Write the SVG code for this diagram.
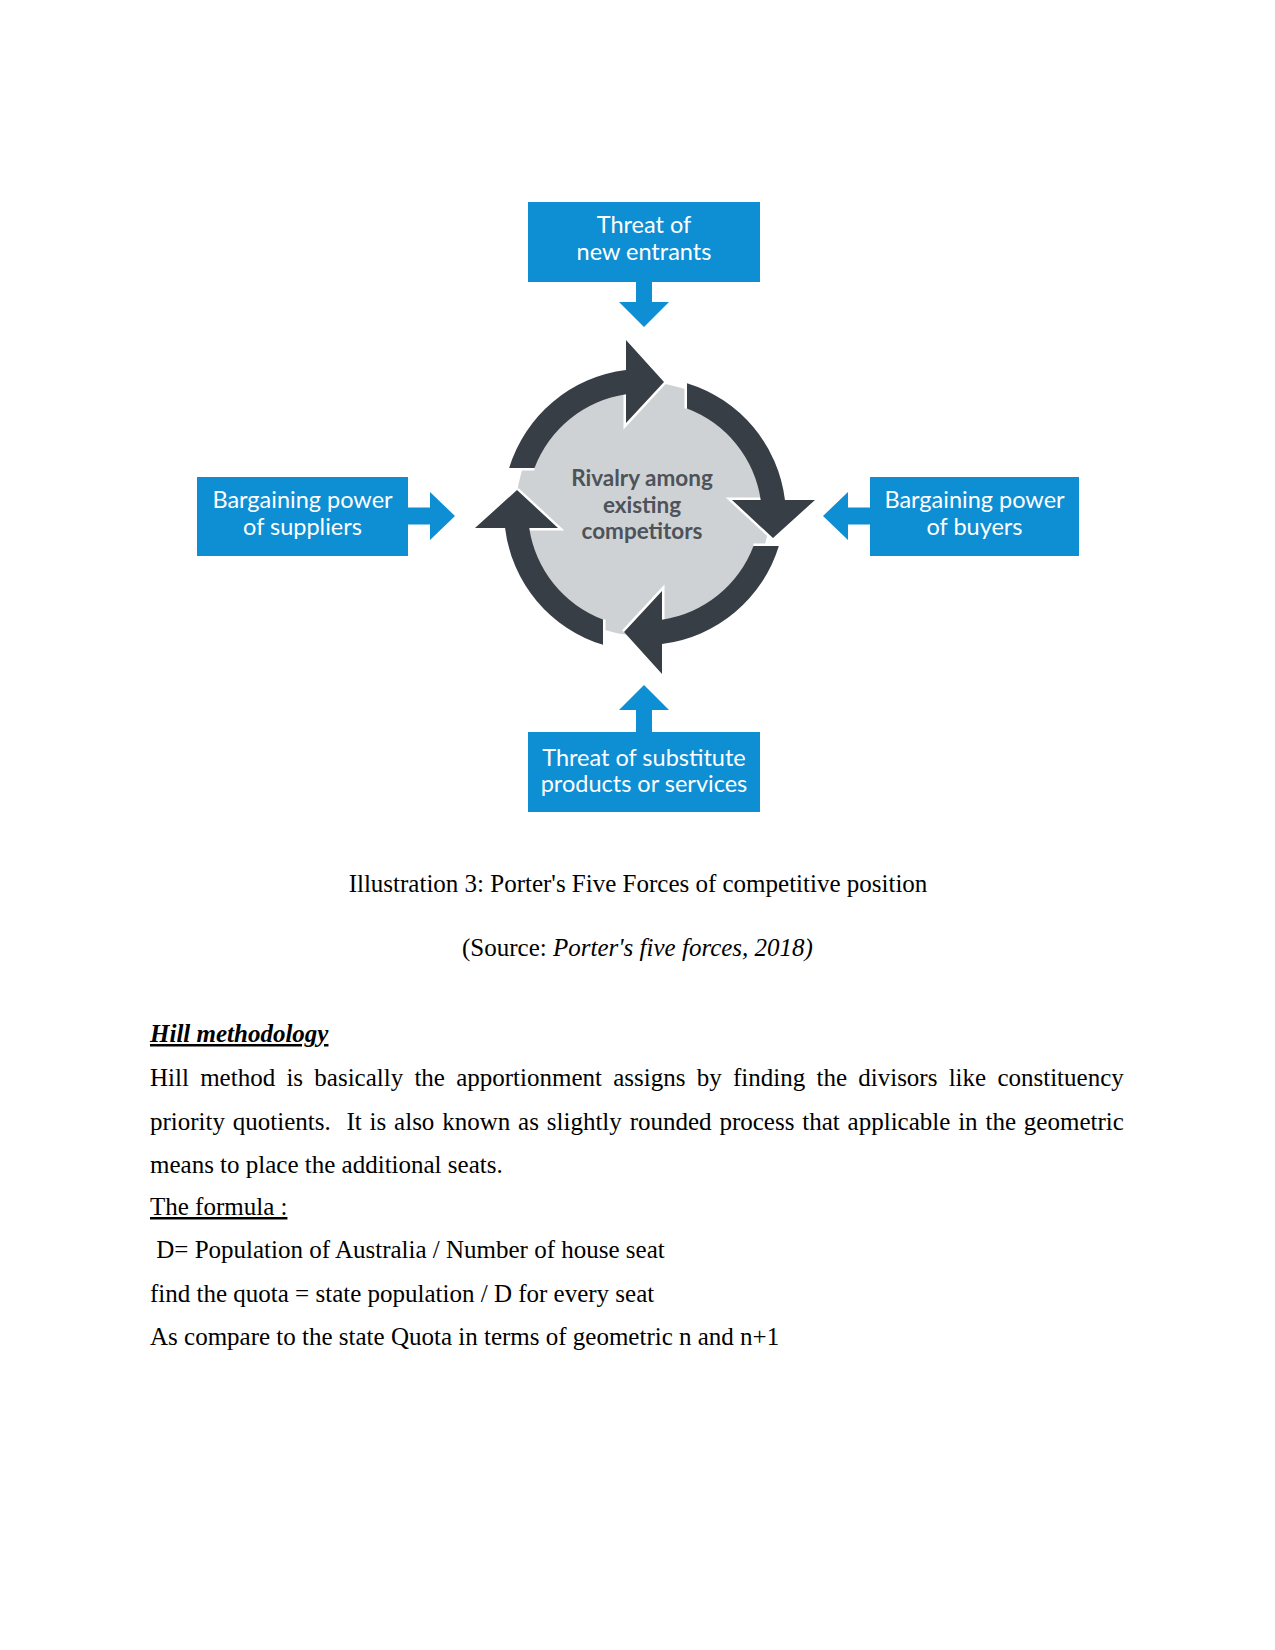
<svg xmlns="http://www.w3.org/2000/svg" xmlns:xlink="http://www.w3.org/1999/xlink" width="1275" height="1650" viewBox="0 0 1275 1650">
<style>
.box{fill:#0e8ed3}
.blue{fill:#0e8ed3}
.btxt{font-family:Lato,"Noto Sans",sans-serif;font-size:23.5px;fill:#ffffff;text-anchor:middle}
.ctxt{font-family:Lato,"Noto Sans",sans-serif;font-size:22.5px;font-weight:700;fill:#4d5359;text-anchor:middle}
.ring{fill:#373e45}
.halo{fill:none;stroke:#ffffff;stroke-width:5;stroke-linejoin:miter}
.doc{font-family:"Liberation Serif","Times New Roman",serif;font-size:25px;fill:#000000}
</style>
<defs>
<path id="ringArrow" class="ring" d="M -133.86 -41 A 140 140 0 0 1 -17 -138.96 L -17 -169 L 21 -127 L -17 -86 L -17 -114.75 A 116 116 0 0 0 -108.51 -41 Z"/>
<path id="ringHalo" class="halo" d="M -108.51 -41 L -133.86 -41 M -17 -114.75 L -17 -86 L 21 -127"/>
</defs>
<rect width="1275" height="1650" fill="#ffffff"/>

<g id="rivalry">
<circle cx="643" cy="509" r="127" fill="#cfd2d5"/>
<g id="ring-arrows">
<use xlink:href="#ringHalo" transform="translate(643,509) rotate(0)"/>
<use xlink:href="#ringHalo" transform="translate(646,517) rotate(90)"/>
<use xlink:href="#ringHalo" transform="translate(645,505) rotate(180)"/>
<use xlink:href="#ringHalo" transform="translate(644,511) rotate(270)"/>
<use xlink:href="#ringArrow" transform="translate(643,509) rotate(0)"/>
<use xlink:href="#ringArrow" transform="translate(646,517) rotate(90)"/>
<use xlink:href="#ringArrow" transform="translate(645,505) rotate(180)"/>
<use xlink:href="#ringArrow" transform="translate(644,511) rotate(270)"/>
</g>
<text class="ctxt" x="642" y="486">Rivalry among</text>
<text class="ctxt" x="642" y="513">existing</text>
<text class="ctxt" x="642" y="539">competitors</text>
</g>

<g id="connectors">
<path class="blue" d="M 636 282 L 652 282 L 652 302 L 669 302 L 644 327 L 619 302 L 636 302 Z"/>
<path class="blue" d="M 408 507.5 L 430 507.5 L 430 492 L 455 516 L 430 540 L 430 524.5 L 408 524.5 Z"/>
<path class="blue" d="M 870 507.5 L 848 507.5 L 848 492 L 823 516 L 848 540 L 848 524.5 L 870 524.5 Z"/>
<path class="blue" d="M 636 732 L 652 732 L 652 710 L 669 710 L 644 685 L 619 710 L 636 710 Z"/>
</g>

<g id="new-entrants">
<rect class="box" x="528" y="202" width="232" height="80"/>
<text class="btxt" x="644" y="233">Threat of</text>
<text class="btxt" x="644" y="260">new entrants</text>
</g>

<g id="suppliers">
<rect class="box" x="197" y="477" width="211" height="79"/>
<text class="btxt" x="302.5" y="508">Bargaining power</text>
<text class="btxt" x="302.5" y="535">of suppliers</text>
</g>

<g id="buyers">
<rect class="box" x="870" y="477" width="209" height="79"/>
<text class="btxt" x="974.5" y="508">Bargaining power</text>
<text class="btxt" x="974.5" y="535">of buyers</text>
</g>

<g id="substitutes">
<rect class="box" x="528" y="732" width="232" height="80"/>
<text class="btxt" x="644" y="766">Threat of substitute</text>
<text class="btxt" x="644" y="792">products or services</text>
</g>

<g id="document-text">
<text class="doc" x="638" y="892" text-anchor="middle">Illustration 3: Porter's Five Forces of competitive position</text>
<text class="doc" x="637.5" y="956" text-anchor="middle">(Source: <tspan font-style="italic">Porter's five forces, 2018)</tspan></text>
<text class="doc" x="150" y="1042" font-weight="bold" font-style="italic" text-decoration="underline">Hill methodology</text>
<text class="doc" x="150" y="1086" word-spacing="5">Hill method is basically the apportionment assigns by finding the divisors like constituency</text>
<text class="doc" x="150" y="1130" word-spacing="1.6" xml:space="preserve">priority quotients.  It is also known as slightly rounded process that applicable in the geometric</text>
<text class="doc" x="150" y="1173">means to place the additional seats.</text>
<text class="doc" x="150" y="1215" text-decoration="underline">The formula :</text>
<text class="doc" x="150" y="1258" xml:space="preserve"> D= Population of Australia / Number of house seat</text>
<text class="doc" x="150" y="1302">find the quota = state population / D for every seat</text>
<text class="doc" x="150" y="1345">As compare to the state Quota in terms of geometric n and n+1</text>
</g>
</svg>
